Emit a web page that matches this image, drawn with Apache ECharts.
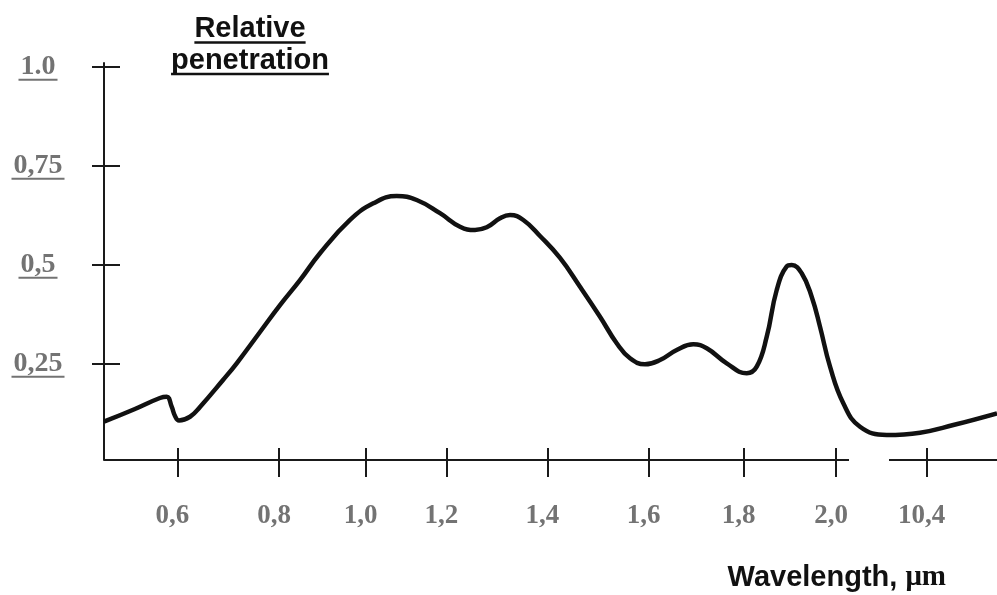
<!DOCTYPE html>
<html><head><meta charset="utf-8">
<script src="https://cdn.jsdelivr.net/npm/echarts@6/dist/echarts.min.js"></script>
<style>html,body{margin:0;padding:0;background:#fff}#c{width:997px;height:595px}</style>
</head><body><div id="c"></div>
<script>
// Curve: relative penetration vs. (hand-drawn, nominal) wavelength position
const curveX = [0.444,0.510,0.563,0.5775,0.588,0.5951,0.6036,0.627,0.6482,0.6971,0.7262,0.7757,0.8182,0.8607,0.9032,0.967,1.0165,1.0662,1.1087,1.1582,1.2007,1.2326,1.2575,1.2857,1.307,1.3352,1.3707,1.4132,1.4557,1.4982,1.5337,1.562,1.5938,1.6257,1.6612,1.6965,1.725,1.7675,1.81,1.8312,1.8525,1.8737,1.895,1.9056,1.9268,1.948,1.9657,1.987,2.0152,2.0507,2.1074,2.1782,2.249,2.3418];
const curveY = [0.1035,0.1356,0.1634,0.1667,0.1414,0.118,0.1066,0.116,0.1407,0.2088,0.251,0.330,0.398,0.461,0.529,0.613,0.655,0.6735,0.6634,0.630,0.596,0.5876,0.5944,0.6172,0.6255,0.6129,0.5725,0.517,0.4444,0.3687,0.3015,0.2636,0.2485,0.2593,0.2846,0.299,0.2889,0.251,0.2258,0.2424,0.3182,0.4361,0.4955,0.4992,0.4783,0.4192,0.3434,0.2424,0.15,0.0909,0.07,0.0758,0.0952,0.1247];

// X ticks (positions on the drawn axis) and their labels
const xTickPos = [0.6,0.8161,1.0,1.1716,1.3862,1.6017,1.8036,2.0,2.1924];
const xTickLabels = ['0,6','0,8','1,0','1,2','1,4','1,6','1,8','2,0','10,4'];
// Y ticks and labels
const yTickVals = [0.25,0.5,0.75,1.0];
const yTickLabels = ['0,25','0,5','0,75','1.0'];

const xMin = 0.4442, xMax = 2.3418, yMin = 0.0068, yMax = 1.0093;
const breakStart = 2.0273, breakEnd = 2.1123;

const AX = '#1a1a1a', GRAY = '#737373';
const findLabel = (vals, labels, v) => {
  for (let i = 0; i < vals.length; i++) if (Math.abs(vals[i] - v) < 1e-6) return labels[i];
  return '';
};

const chart = echarts.init(document.getElementById('c'), null, {renderer: 'canvas'});
const option = {
  animation: false,
  backgroundColor: '#fff',
  grid: {left: 104, right: 0, top: 63, bottom: 135, containLabel: false, outerBoundsMode: 'none'},
  xAxis: [{
    type: 'value', min: xMin, max: xMax, position: 'bottom',
    axisLine: {show: false, onZero: false},
    axisTick: {show: true, inside: false, length: 17, customValues: xTickPos, lineStyle: {color: AX, width: 2}},
    axisLabel: {
      customValues: xTickPos, formatter: v => findLabel(xTickPos, xTickLabels, v),
      margin: 56, verticalAlign: 'middle', align: 'center', padding: [0, 10, 0, 0],
      fontFamily: 'Liberation Serif', fontWeight: 'bold', fontSize: 27, color: GRAY
    },
    splitLine: {show: false}
  }, {
    type: 'value', min: xMin, max: xMax, position: 'bottom',
    axisLine: {show: false, onZero: false},
    axisTick: {show: true, inside: true, length: 12, customValues: xTickPos, lineStyle: {color: AX, width: 2}},
    axisLabel: {show: false},
    splitLine: {show: false}
  }],
  yAxis: [{
    type: 'value', min: yMin, max: yMax, position: 'left',
    axisLine: {show: true, onZero: false, lineStyle: {color: AX, width: 2}},
    axisTick: {show: true, inside: false, length: 12, customValues: yTickVals, lineStyle: {color: AX, width: 2}},
    axisLabel: {
      customValues: yTickVals, formatter: v => findLabel(yTickVals, yTickLabels, v),
      margin: 66, align: 'center', verticalAlign: 'middle',
      fontFamily: 'Liberation Serif', fontWeight: 'bold', fontSize: 28, color: GRAY
    },
    splitLine: {show: false}
  }, {
    type: 'value', min: yMin, max: yMax, position: 'left',
    axisLine: {show: false, onZero: false},
    axisTick: {show: true, inside: true, length: 16, customValues: yTickVals, lineStyle: {color: AX, width: 2}},
    axisLabel: {show: false},
    splitLine: {show: false}
  }],
  series: [{
    type: 'line', xAxisIndex: 0, yAxisIndex: 0,
    data: curveX.map((x, i) => [x, curveY[i]]),
    smooth: 0.45, showSymbol: false, symbol: 'none',
    lineStyle: {color: '#111', width: 4.5},
    emphasis: {disabled: true}, silent: true,
    markLine: {
      silent: true, symbol: ['none', 'none'], label: {show: false}, animation: false,
      lineStyle: {color: AX, width: 2, type: 'solid'},
      emphasis: {disabled: true},
      data: [
        [{coord: [xMin, yMin]}, {coord: [breakStart, yMin]}],
        [{coord: [breakEnd, yMin]}, {coord: [xMax, yMin]}]
      ]
    }
  }]
};
chart.setOption(option);

// Decorations: titles and underlines
const ctx = document.createElement('canvas').getContext('2d');
const g = [];
ctx.font = 'bold 28px "Liberation Serif"';
const yLabelCx = 104 - 66;
yTickVals.forEach((v, i) => {
  const py = chart.convertToPixel({yAxisIndex: 0}, v);
  const w = ctx.measureText(yTickLabels[i]).width + 4;
  g.push({type: 'line', silent: true, shape: {x1: yLabelCx - w / 2, y1: py + 13, x2: yLabelCx + w / 2, y2: py + 13}, style: {stroke: GRAY, lineWidth: 2}});
});
const titleFont = 'bold 29px "Liberation Sans"';
ctx.font = titleFont;
[['Relative', 29, 42.5], ['penetration', 60.5, 74]].forEach(([t, cy, uy]) => {
  const w = ctx.measureText(t).width;
  g.push({type: 'text', silent: true, x: 250, y: cy, style: {text: t, font: titleFont, fill: '#111', align: 'center', verticalAlign: 'middle'}});
  g.push({type: 'line', silent: true, shape: {x1: 250 - w / 2, y1: uy, x2: 250 + w / 2, y2: uy}, style: {stroke: '#111', lineWidth: 2.5}});
});
g.push({type: 'text', silent: true, x: 946, y: 578, style: {
  text: '{a|Wavelength, }{b|μm}', align: 'right', verticalAlign: 'middle',
  rich: {
    a: {fontFamily: 'Liberation Sans', fontWeight: 'bold', fontSize: 29, fill: '#111'},
    b: {fontFamily: 'Liberation Serif', fontWeight: 'bold', fontSize: 29, fill: '#111'}
  }
}});
chart.setOption({graphic: g});
</script>
</body></html>
